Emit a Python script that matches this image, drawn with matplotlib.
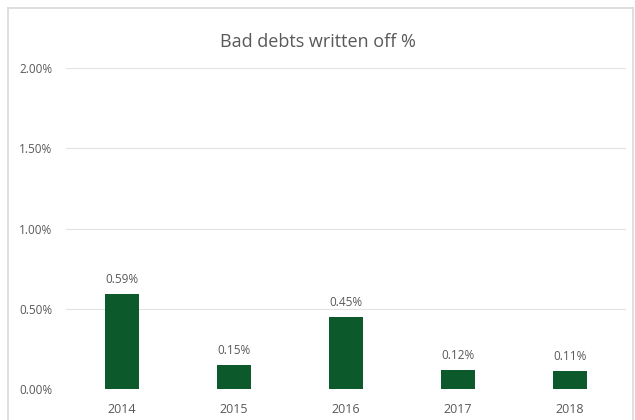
import matplotlib
matplotlib.use("Agg")
import matplotlib.pyplot as plt
from matplotlib.lines import Line2D
from matplotlib.ticker import FuncFormatter

years = ["2014", "2015", "2016", "2017", "2018"]
written_off = [0.59, 0.15, 0.45, 0.12, 0.11]  # percent
yticks = [0.0, 0.5, 1.0, 1.5, 2.0]

plt.rcParams['font.family'] = ['Open Sans', 'DejaVu Sans']
text_col = '#595959'
bar_col = '#0c5a2c'

fig = plt.figure(figsize=(6.35, 4.2), dpi=100)
ax = fig.add_axes([66/635, 31/420, 560/635, 321/420])

x = range(len(years))
ax.bar(x, written_off, width=0.31, color=bar_col, zorder=3)
for i, v in zip(x, written_off):
    ax.text(i, v + 0.05, "%.2f%%" % v, ha='center', va='bottom',
            fontsize=8.5, color=text_col)

ax.set_xlim(-0.5, len(years) - 0.5)
ax.set_ylim(0, 2.0)
ax.set_yticks(yticks)
ax.yaxis.set_major_formatter(FuncFormatter(lambda v, p: "%.2f%%" % v))
ax.set_xticks(list(x))
ax.set_xticklabels(years)
ax.tick_params(axis='both', length=0, labelcolor=text_col)
ax.tick_params(axis='y', pad=10, labelsize=8.5)
ax.tick_params(axis='x', pad=10, labelsize=9)
ax.grid(axis='y', color='#e3e3e3', linewidth=0.8, zorder=0)
for s in ax.spines.values():
    s.set_visible(False)

fig.text(0.5, 1 - 42/420, "Bad debts written off %", ha='center', va='center',
         fontsize=13, color=text_col)

# outer chart frame (bottom edge falls outside the image)
fc = '#d9d9d9'
fig.add_artist(Line2D([8/635, 8/635], [0, 1 - 8/420], transform=fig.transFigure, color=fc, lw=1.2))
fig.add_artist(Line2D([8/635, 633/635], [1 - 8/420, 1 - 8/420], transform=fig.transFigure, color=fc, lw=1.2))
fig.add_artist(Line2D([633/635, 633/635], [0, 1 - 8/420], transform=fig.transFigure, color=fc, lw=1.2))

fig.savefig("out.png", dpi=100)
